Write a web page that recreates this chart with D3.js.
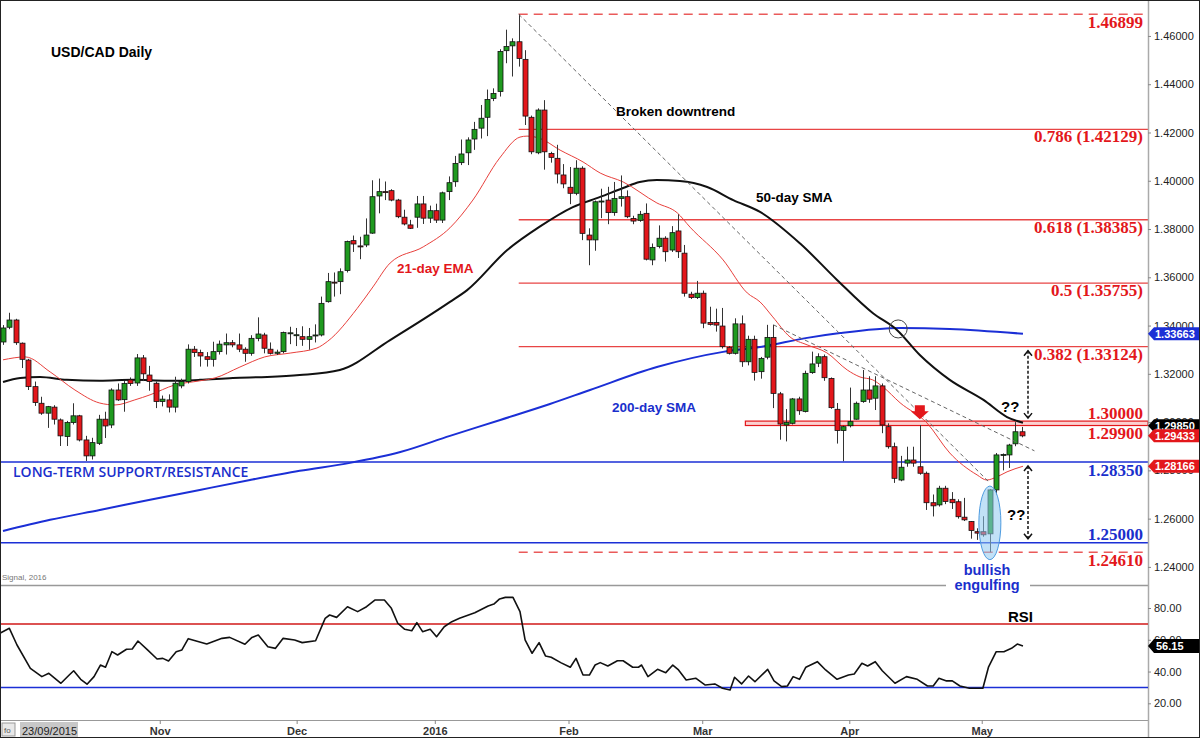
<!DOCTYPE html>
<html>
<head>
<meta charset="utf-8">
<script src="https://cdn.jsdelivr.net/npm/d3@7"></script>
<style>
  body { margin: 0; background: #fff; }
  svg { display: block; font-family: 'Liberation Sans', Arial, sans-serif; }
</style>
</head>
<body>
<svg id="chart" width="1200" height="738"></svg>
<script>
// daily candles, 28 Sep 2015 .. 12 May 2016
const opens = [1.3332,1.3393,1.3423,1.3327,1.3257,1.3147,1.3078,1.3037,1.3062,1.3009,1.2940,1.2998,1.3026,1.2926,1.2860,1.2912,1.3012,1.2988,1.3133,1.3093,1.3175,1.3162,1.3266,1.3195,1.3161,1.3085,1.3092,1.3062,1.3150,1.3168,1.3302,1.3288,1.3271,1.3260,1.3292,1.3320,1.3329,1.3320,1.3302,1.3285,1.3347,1.3361,1.3302,1.3285,1.3292,1.3368,1.3360,1.3354,1.3343,1.3360,1.3361,1.3499,1.3580,1.3582,1.3628,1.3752,1.3730,1.3734,1.3783,1.3937,1.3955,1.3959,1.3920,1.3849,1.3817,1.3849,1.3904,1.3845,1.3876,1.3837,1.3955,1.3996,1.4075,1.4116,1.4173,1.4218,1.4263,1.4341,1.4370,1.4539,1.4559,1.4576,1.4503,1.4263,1.4116,1.4293,1.4113,1.4093,1.4024,1.3973,1.3948,1.4052,1.3775,1.3755,1.3914,1.3920,1.3868,1.3927,1.3934,1.3844,1.3836,1.3865,1.3672,1.3728,1.3762,1.3713,1.3792,1.3700,1.3530,1.3516,1.3534,1.3413,1.3413,1.3398,1.3310,1.3285,1.3407,1.3250,1.3343,1.3209,1.3269,1.3351,1.3117,1.2988,1.2995,1.3096,1.3044,1.3205,1.3244,1.3271,1.3181,1.3053,1.2965,1.2985,1.3012,1.3085,1.3133,1.3099,1.3150,1.2981,1.2898,1.2760,1.2830,1.2843,1.2815,1.2788,1.2666,1.2657,1.2726,1.2680,1.2670,1.2606,1.2588,1.2546,1.2546,1.2537,1.2719,1.2864,1.2864,1.2910,1.2960];
const highs = [1.3402,1.3453,1.3428,1.3330,1.3262,1.3168,1.3105,1.3067,1.3070,1.3015,1.3005,1.3078,1.3030,1.2943,1.2935,1.3030,1.3043,1.3140,1.3160,1.3170,1.3185,1.3282,1.3278,1.3233,1.3168,1.3110,1.3115,1.3188,1.3180,1.3322,1.3315,1.3300,1.3290,1.3333,1.3338,1.3367,1.3340,1.3367,1.3310,1.3360,1.3434,1.3370,1.3330,1.3300,1.3375,1.3395,1.3390,1.3397,1.3390,1.3405,1.3520,1.3618,1.3620,1.3637,1.3752,1.3773,1.3768,1.3844,1.4002,1.4009,1.3997,1.3965,1.3925,1.3880,1.3838,1.3937,1.3937,1.3897,1.3905,1.3955,1.4018,1.4103,1.4171,1.4180,1.4244,1.4314,1.4378,1.4383,1.4545,1.4626,1.4590,1.4690,1.4541,1.4270,1.4300,1.4334,1.4120,1.4149,1.4069,1.4057,1.4085,1.4060,1.3803,1.3918,1.3967,1.3975,1.3995,1.4022,1.3960,1.3855,1.3875,1.3906,1.3740,1.3815,1.3770,1.3812,1.3861,1.3734,1.3540,1.3585,1.3545,1.3478,1.3470,1.3473,1.3315,1.3430,1.3442,1.3358,1.3358,1.3270,1.3403,1.3403,1.3125,1.3054,1.3100,1.3105,1.3213,1.3292,1.3285,1.3280,1.3185,1.3079,1.2985,1.3143,1.3085,1.3216,1.3190,1.3190,1.3160,1.2995,1.2915,1.2860,1.2898,1.2898,1.2988,1.2795,1.2700,1.2736,1.2736,1.2710,1.2680,1.2686,1.2590,1.2560,1.2610,1.2722,1.2872,1.2870,1.2910,1.3000,1.2980];
const lows = [1.3320,1.3385,1.3320,1.3224,1.3133,1.3067,1.3030,1.2976,1.2990,1.2901,1.2901,1.2990,1.2920,1.2839,1.2845,1.2905,1.2934,1.2975,1.3088,1.3043,1.3150,1.3150,1.3170,1.3130,1.3058,1.3065,1.3040,1.3040,1.3140,1.3160,1.3270,1.3230,1.3230,1.3230,1.3280,1.3280,1.3310,1.3290,1.3250,1.3275,1.3335,1.3285,1.3280,1.3278,1.3285,1.3323,1.3315,1.3316,1.3300,1.3330,1.3355,1.3495,1.3520,1.3530,1.3620,1.3705,1.3675,1.3725,1.3780,1.3865,1.3920,1.3915,1.3845,1.3815,1.3800,1.3805,1.3821,1.3825,1.3825,1.3825,1.3920,1.3975,1.4065,1.4065,1.4128,1.4175,1.4185,1.4330,1.4349,1.4487,1.4432,1.4473,1.4231,1.4110,1.4110,1.4046,1.4075,1.3989,1.3969,1.3903,1.3940,1.3754,1.3650,1.3710,1.3845,1.3820,1.3855,1.3893,1.3845,1.3820,1.3830,1.3670,1.3650,1.3720,1.3665,1.3705,1.3680,1.3520,1.3510,1.3510,1.3389,1.3400,1.3375,1.3305,1.3280,1.3280,1.3229,1.3235,1.3172,1.3180,1.3260,1.3058,1.2927,1.2920,1.2990,1.3030,1.3040,1.3200,1.3228,1.3171,1.3055,1.2911,1.2838,1.2978,1.3010,1.3080,1.3080,1.3050,1.2954,1.2890,1.2748,1.2755,1.2815,1.2815,1.2782,1.2636,1.2609,1.2650,1.2660,1.2640,1.2600,1.2590,1.2517,1.2512,1.2525,1.2461,1.2700,1.2800,1.2810,1.2900,1.2937];
const closes = [1.3390,1.3423,1.3329,1.3260,1.3147,1.3081,1.3037,1.3064,1.3012,1.2943,1.2998,1.3026,1.2926,1.2860,1.2915,1.3012,1.2984,1.3133,1.3092,1.3160,1.3160,1.3266,1.3200,1.3168,1.3085,1.3095,1.3062,1.3161,1.3168,1.3302,1.3288,1.3274,1.3260,1.3292,1.3323,1.3329,1.3320,1.3302,1.3285,1.3347,1.3365,1.3306,1.3285,1.3290,1.3371,1.3370,1.3362,1.3343,1.3354,1.3361,1.3492,1.3582,1.3578,1.3623,1.3748,1.3738,1.3728,1.3775,1.3934,1.3955,1.3953,1.3920,1.3851,1.3821,1.3803,1.3904,1.3845,1.3876,1.3837,1.3950,1.3992,1.4072,1.4111,1.4169,1.4213,1.4259,1.4337,1.4362,1.4536,1.4556,1.4576,1.4507,1.4268,1.4120,1.4293,1.4120,1.4097,1.4028,1.3987,1.3948,1.4052,1.3782,1.3755,1.3913,1.3916,1.3868,1.3927,1.3934,1.3851,1.3833,1.3861,1.3675,1.3724,1.3762,1.3706,1.3785,1.3706,1.3534,1.3516,1.3534,1.3410,1.3405,1.3402,1.3313,1.3285,1.3407,1.3250,1.3343,1.3206,1.3264,1.3351,1.3119,1.2992,1.2998,1.3096,1.3047,1.3202,1.3241,1.3271,1.3184,1.3060,1.2965,1.2981,1.3002,1.3078,1.3133,1.3095,1.3150,1.2988,1.2898,1.2767,1.2813,1.2843,1.2830,1.2788,1.2666,1.2653,1.2726,1.2671,1.2666,1.2608,1.2595,1.2551,1.2540,1.2533,1.2719,1.2864,1.2866,1.2905,1.2960,1.2943];

// moving averages: [candle index, price]
const ema21 = [[0,1.3258],[3.5,1.3270],[7.4,1.3208],[11.3,1.3133],[15.2,1.3079],[17.6,1.3071],[20.7,1.3092],[23.1,1.3113],[27,1.3154],[30.9,1.3171],[33.3,1.3183],[37.2,1.3228],[41.1,1.3270],[45.1,1.3286],[49.3,1.3307],[51,1.3335],[55.6,1.3470],[58.1,1.3560],[60.8,1.3659],[66,1.3726],[70.2,1.3805],[73.8,1.3920],[78,1.4094],[81.2,1.4181],[82.3,1.4185],[84.3,1.4176],[87.5,1.4127],[91.1,1.4078],[93.8,1.4032],[97.4,1.3995],[102.7,1.3908],[105.9,1.3867],[107.9,1.3808],[113.1,1.3672],[116.9,1.3535],[118.9,1.3498],[120.9,1.3436],[123.6,1.3353],[126.3,1.3320],[129.4,1.3287],[132.6,1.3216],[134.6,1.3187],[136.6,1.3175],[138.2,1.3146],[140.9,1.3080],[145.1,1.2997],[148.7,1.2872],[153,1.2781],[154.5,1.2760],[156.1,1.2773],[157.7,1.2794],[160.2,1.2817]];
const sma50 = [[0,1.3166],[2.7,1.3183],[5.8,1.3187],[10,1.3175],[15.2,1.3171],[20.4,1.3175],[25.8,1.3171],[30.9,1.3175],[36.1,1.3183],[41.5,1.3187],[46.6,1.3195],[52.9,1.3216],[60.8,1.3340],[70.2,1.3498],[72.9,1.3547],[79.2,1.3713],[84.3,1.3810],[89.5,1.3891],[93.8,1.3933],[97.4,1.3970],[100,1.3995],[102.7,1.4003],[106.3,1.3999],[110.6,1.3974],[114.7,1.3920],[118.9,1.3871],[125.2,1.3740],[131,1.3589],[136.6,1.3452],[140.4,1.3382],[144,1.3278],[148.7,1.3175],[154,1.3092],[157.7,1.3021],[160.2,1.2997]];
const sma200 = [[0,1.2549],[7.4,1.2595],[15.2,1.2636],[23.1,1.2678],[30.9,1.2719],[38.8,1.2760],[46.6,1.2798],[54.5,1.2831],[62.4,1.2876],[70.2,1.2943],[78.1,1.3009],[85.9,1.3075],[92.2,1.3133],[102.7,1.3228],[113.1,1.3291],[118.9,1.3311],[126.3,1.3349],[131.5,1.3369],[140.9,1.3390],[148.7,1.3386],[160.2,1.3366]];

// RSI(14): [candle index, value]
const rsi = [[-0.5,64.1],[1.0,67.2],[2.2,56.7],[4.3,42.0],[6.1,36.8],[7.2,38.9],[9.1,32.6],[10.4,37.8],[11.1,40.5],[12.2,35.1],[13.2,32.0],[14.3,36.8],[15.3,44.1],[16.1,42.7],[17.1,52.5],[18.0,50.4],[19.4,54.0],[20.3,54.2],[21.2,59.2],[22.7,53.6],[24.2,47.9],[25.1,48.3],[26.0,46.6],[27.2,52.5],[28.1,53.6],[29.1,60.7],[32.0,57.3],[34.4,60.9],[35.6,61.5],[38.0,57.2],[39.1,61.5],[40.1,63.0],[41.6,55.6],[42.8,54.6],[44.0,60.9],[45.8,59.9],[47.0,58.2],[49.1,59.4],[50.6,73.5],[51.3,75.6],[52.4,74.1],[54.1,80.8],[55.7,77.7],[57.1,80.8],[58.4,85.0],[59.9,85.0],[61.0,79.8],[62.0,70.4],[63.1,66.6],[64.2,65.7],[65.0,70.8],[65.9,65.1],[67.1,66.6],[68.1,61.9],[69.3,68.2],[70.5,71.4],[71.7,73.5],[74.1,77.0],[76.2,81.3],[77.1,82.5],[78.0,85.7],[78.9,86.7],[80.1,86.7],[81.2,77.7],[82.0,59.9],[83.1,51.5],[84.2,58.2],[85.2,49.8],[86.1,49.0],[87.6,45.6],[89.1,42.7],[90.0,48.3],[91.1,37.8],[92.1,37.8],[93.0,44.1],[93.8,45.6],[95.0,43.5],[96.5,46.8],[97.4,46.8],[98.9,42.7],[99.8,42.7],[100.3,44.1],[101.3,36.8],[102.8,41.4],[104.1,39.3],[105.2,44.1],[106.1,41.0],[107.3,34.7],[108.8,35.8],[110.3,31.5],[111.8,32.2],[113.0,29.5],[114.2,28.4],[114.9,36.4],[116.0,32.2],[117.1,37.2],[118.1,33.6],[120.1,41.4],[121.1,34.1],[122.3,30.5],[123.2,30.9],[124.1,36.8],[125.1,35.1],[126.1,42.7],[127.9,46.2],[129.2,41.0],[131.0,35.1],[132.8,37.8],[133.7,38.5],[134.9,45.2],[135.8,43.5],[137.0,46.2],[138.1,40.5],[140.1,32.6],[141.9,36.8],[143.6,35.1],[145.2,30.9],[146.1,30.9],[147.0,35.8],[148.2,34.1],[149.1,34.1],[150.3,30.9],[151.8,29.5],[153.9,29.5],[154.8,43.0],[156.0,52.5],[157.2,52.5],[158.4,54.6],[159.3,57.3],[160.2,56.1]];

const priceTicks = [1.24,1.26,1.28,1.30,1.32,1.34,1.36,1.38,1.40,1.42,1.44,1.46];
const rsiTicks = [20,40,60,80];
const rsiBands = [70,30];
const monthLabels = ['Nov','Dec','2016','Feb','Mar','Apr','May'];
const monthIdx = [24.7,46.2,67.9,88.9,109.9,133.0,153.8];

const fibRatios = ['0.786','0.618','0.5','0.382'];
const fibLevels = [1.42129,1.38385,1.35755,1.33124];
const swingLevels = [1.46899,1.24610];
const blueLevels = [1.28350,1.25000];
const resistance = [1.30000,1.29900];
const tagValues = [1.33663,1.29850,1.29433,1.28166];
const tagColors = ['#1b2fd6','#000','#e3171b','#e3171b'];
const rsiLast = 56.15;
// dashed downtrend lines: [idx0, price0, idx1, price1]
const trendLines = [[81,1.46899,155,1.2748],[121,1.3403,162,1.2881]];

const svg = d3.select('#chart');
const axisX = 1148;
const RED = '#e3171b', BLUE = '#1b2fd6', TXTBLUE = '#1a2fcc';

const x = d3.scaleLinear().domain([0, 160]).range([3, 1021.7]);
const y = d3.scaleLinear().domain([1.2325, 1.4749]).range([585, 0]);
const yr = d3.scaleLinear().domain([20, 80]).range([703.3, 608]);

svg.append('rect').attr('width', 1200).attr('height', 738).attr('fill', '#fff');

// clip for price panel
svg.append('clipPath').attr('id', 'pc').append('rect')
  .attr('x', 0).attr('y', 0).attr('width', axisX).attr('height', 585);

// horizontal levels
const gLev = svg.append('g');
gLev.selectAll('line.fib').data(fibLevels).join('line')
  .attr('x1', x(81)).attr('x2', axisX)
  .attr('y1', d => y(d)).attr('y2', d => y(d))
  .attr('stroke', '#e84545').attr('stroke-width', 1.3);
gLev.selectAll('line.sw').data(swingLevels).join('line')
  .attr('x1', x(81)).attr('x2', axisX)
  .attr('y1', d => y(d)).attr('y2', d => y(d))
  .attr('stroke', '#ea5a5a').attr('stroke-width', 1.5).attr('stroke-dasharray', '9,6');
gLev.selectAll('line.bl').data(blueLevels).join('line')
  .attr('x1', 0).attr('x2', axisX)
  .attr('y1', d => y(d)).attr('y2', d => y(d))
  .attr('stroke', BLUE).attr('stroke-width', 1.5);
gLev.append('rect')
  .attr('x', x(116.6)).attr('width', axisX - x(116.6))
  .attr('y', y(resistance[0]) - 1).attr('height', y(resistance[1]) - y(resistance[0]) + 2)
  .attr('fill', '#fbd0d0').attr('stroke', RED).attr('stroke-width', 1.2);

// moving averages
const line = d3.line().x(d => x(d[0])).y(d => y(d[1])).curve(d3.curveMonotoneX);
const gMa = svg.append('g').attr('fill', 'none').attr('clip-path', 'url(#pc)');
gMa.append('path').attr('d', line(sma200)).attr('stroke', BLUE).attr('stroke-width', 2);
gMa.append('path').attr('d', line(sma50)).attr('stroke', '#111').attr('stroke-width', 2);
gMa.append('path').attr('d', line(ema21)).attr('stroke', '#e8403c').attr('stroke-width', 1);

// candles
const idx = d3.range(opens.length);
const gC = svg.append('g').attr('clip-path', 'url(#pc)');
gC.selectAll('line').data(idx).join('line')
  .attr('x1', i => Math.round(x(i)) + 0.5).attr('x2', i => Math.round(x(i)) + 0.5)
  .attr('y1', i => y(highs[i])).attr('y2', i => y(lows[i]))
  .attr('stroke', '#333').attr('stroke-width', 1);
gC.selectAll('rect').data(idx).join('rect')
  .attr('x', i => Math.round(x(i)) - 2).attr('width', 5)
  .attr('y', i => y(Math.max(opens[i], closes[i])))
  .attr('height', i => Math.max(1, Math.abs(y(opens[i]) - y(closes[i]))))
  .attr('fill', i => closes[i] >= opens[i] ? '#1f9a1f' : RED)
  .attr('stroke', '#111').attr('stroke-width', 0.8);

// trend lines
svg.append('g').selectAll('line').data(trendLines).join('line')
  .attr('x1', d => x(d[0])).attr('y1', d => y(d[1]))
  .attr('x2', d => x(d[2])).attr('y2', d => y(d[3]))
  .attr('stroke', '#666').attr('stroke-width', 1).attr('stroke-dasharray', '4,3');

// bullish engulfing highlight
svg.append('ellipse')
  .attr('cx', x(155)).attr('cy', (y(1.2735) + y(1.2430)) / 2)
  .attr('rx', 11).attr('ry', (y(1.2430) - y(1.2735)) / 2)
  .attr('fill', '#8ec8f0').attr('fill-opacity', 0.55)
  .attr('stroke', '#4d9be0').attr('stroke-width', 1);

// cross circle
svg.append('circle').attr('cx', x(140.6)).attr('cy', y(1.3386)).attr('r', 9)
  .attr('fill', 'none').attr('stroke', '#444').attr('stroke-width', 1);

// red down arrow
const ax = x(144), ay = y(1.3070);
svg.append('path')
  .attr('d', `M${ax - 5},${ay} h10 v6 h4 l-9,8 l-9,-8 h4 z`)
  .attr('fill', RED);

// dotted double arrows
const arrows = [[1.33124, 1.30000], [1.28350, 1.25000]];
const gA = svg.append('g').attr('stroke', '#111').attr('fill', 'none').attr('stroke-width', 1.5);
arrows.forEach(a => {
  const ax0 = 1028, y0 = y(a[0]) + 4, y1 = y(a[1]) - 4;
  gA.append('line').attr('x1', ax0).attr('x2', ax0).attr('y1', y0).attr('y2', y1)
    .attr('stroke-dasharray', '3,2');
  gA.append('path').attr('d', `M${ax0 - 4},${y0 + 5} L${ax0},${y0} L${ax0 + 4},${y0 + 5}`);
  gA.append('path').attr('d', `M${ax0 - 4},${y1 - 5} L${ax0},${y1} L${ax0 + 4},${y1 - 5}`);
});

// level labels
const serif = "'Liberation Serif', 'Times New Roman', serif";
const gL = svg.append('g').attr('font-family', serif).attr('font-weight', 'bold')
  .attr('font-size', 17).attr('text-anchor', 'end');
gL.selectAll('text.fib').data(fibLevels).join('text')
  .attr('x', 1143).attr('y', d => y(d) + 13).attr('fill', RED)
  .text((d, i) => `${fibRatios[i]} (${d.toFixed(5)})`);
gL.selectAll('text.sw').data(swingLevels).join('text')
  .attr('x', 1143).attr('y', d => y(d) + 14).attr('fill', RED)
  .text(d => d.toFixed(5));
gL.append('text').attr('x', 1143).attr('y', y(resistance[0]) - 3).attr('fill', RED).text(resistance[0].toFixed(5));
gL.append('text').attr('x', 1143).attr('y', y(resistance[1]) + 14).attr('fill', RED).text(resistance[1].toFixed(5));
gL.append('text').attr('x', 1143).attr('y', y(blueLevels[0]) + 14).attr('fill', TXTBLUE).text(blueLevels[0].toFixed(5));
gL.append('text').attr('x', 1143).attr('y', y(blueLevels[1]) - 3).attr('fill', TXTBLUE).text(blueLevels[1].toFixed(5));

// panel frame
svg.append('line').attr('x1', 0).attr('x2', axisX).attr('y1', 585.5).attr('y2', 585.5).attr('stroke', '#999').attr('stroke-width', 1.5);
svg.append('line').attr('x1', 0).attr('x2', axisX).attr('y1', 720.5).attr('y2', 720.5).attr('stroke', '#999');
svg.append('line').attr('x1', axisX + 0.5).attr('x2', axisX + 0.5).attr('y1', 0).attr('y2', 738).attr('stroke', '#aaa').attr('stroke-width', 1.5);
svg.append('rect').attr('x', 946).attr('y', 578).attr('width', 84).attr('height', 14).attr('fill', '#fff');

// free text annotations
const ann = svg.append('g').attr('font-weight', 'bold');
ann.append('text').attr('x', 51).attr('y', 57).attr('font-size', 14).text('USD/CAD Daily');
ann.append('text').attr('x', 616).attr('y', 116).attr('font-size', 13.5).text('Broken downtrend');
ann.append('text').attr('x', 756).attr('y', 202).attr('font-size', 13.5).text('50-day SMA');
ann.append('text').attr('x', 397).attr('y', 273).attr('font-size', 13.5).attr('fill', RED).text('21-day EMA');
ann.append('text').attr('x', 612).attr('y', 412).attr('font-size', 13.5).attr('fill', TXTBLUE).text('200-day SMA');
ann.append('text').attr('x', 13).attr('y', 477).attr('font-size', 14)
  .attr('font-family', "'Open Sans', sans-serif").attr('fill', TXTBLUE).style('font-weight', 600)
  .text('LONG-TERM SUPPORT/RESISTANCE');
ann.append('text').attr('x', 1001).attr('y', 412).attr('font-size', 15).text('??');
ann.append('text').attr('x', 1007).attr('y', 520).attr('font-size', 15).text('??');
ann.append('text').attr('x', 987).attr('y', 575).attr('font-size', 14.5).attr('text-anchor', 'middle').attr('fill', TXTBLUE).text('bullish');
ann.append('text').attr('x', 987).attr('y', 590).attr('font-size', 14.5).attr('text-anchor', 'middle').attr('fill', TXTBLUE).text('engulfing');
ann.append('text').attr('x', 1008).attr('y', 622).attr('font-size', 15).text('RSI');
svg.append('text').attr('x', 2).attr('y', 580).attr('font-size', 8).attr('fill', '#777').text('Signal, 2016');

// price axis
const yAxis = d3.axisRight(y).tickValues(priceTicks).tickFormat(d3.format('.5f')).tickSize(3);
const gy = svg.append('g').attr('transform', `translate(${axisX},0)`).call(yAxis);
gy.select('.domain').remove();
gy.selectAll('text').attr('font-size', 11).attr('fill', '#222').attr('font-family', "'Liberation Sans', Arial, sans-serif");
gy.selectAll('line').attr('stroke', '#888');

// price tags
const tag = svg.append('g').selectAll('g').data(tagValues).join('g')
  .attr('transform', d => `translate(${axisX},${y(d)})`);
tag.append('path').attr('d', 'M0,0 L6,-6.5 H52 V6.5 H6 Z').attr('fill', (d, i) => tagColors[i]);
tag.append('text').attr('x', 7).attr('y', 4).attr('font-size', 11).attr('font-weight', 'bold')
  .attr('fill', '#fff').text(d => d.toFixed(5));

// RSI panel
svg.append('g').selectAll('line').data(rsiBands).join('line')
  .attr('x1', 0).attr('x2', axisX).attr('y1', d => yr(d)).attr('y2', d => yr(d))
  .attr('stroke', (d, i) => i ? BLUE : '#d01818').attr('stroke-width', 1.5);
svg.append('path')
  .attr('d', d3.line().x(d => x(d[0])).y(d => yr(d[1]))(rsi))
  .attr('fill', 'none').attr('stroke', '#111').attr('stroke-width', 1.6).attr('stroke-linejoin', 'round');
const rAxis = d3.axisRight(yr).tickValues(rsiTicks).tickFormat(d3.format('.2f')).tickSize(3);
const gr = svg.append('g').attr('transform', `translate(${axisX},0)`).call(rAxis);
gr.select('.domain').remove();
gr.selectAll('text').attr('font-size', 11).attr('fill', '#222').attr('font-family', "'Liberation Sans', Arial, sans-serif");
gr.selectAll('line').attr('stroke', '#888');
const rt = svg.append('g').attr('transform', `translate(${axisX},${yr(rsiLast)})`);
rt.append('path').attr('d', 'M0,0 L6,-7 H52 V7 H6 Z').attr('fill', '#000');
rt.append('text').attr('x', 8).attr('y', 4).attr('font-size', 11).attr('font-weight', 'bold').attr('fill', '#fff').text(rsiLast.toFixed(2));

// time axis
const gx = svg.append('g');
gx.selectAll('line').data(monthIdx).join('line')
  .attr('x1', d => x(d)).attr('x2', d => x(d)).attr('y1', 720).attr('y2', 724).attr('stroke', '#888');
gx.selectAll('text').data(monthIdx).join('text')
  .attr('x', d => x(d)).attr('y', 735).attr('text-anchor', 'middle')
  .attr('font-size', 11).attr('font-weight', 'bold').attr('fill', '#333')
  .text((d, i) => monthLabels[i]);
svg.append('rect').attr('x', 2).attr('y', 723).attr('width', 13).attr('height', 13).attr('fill', '#e8e8e8').attr('stroke', '#999');
svg.append('text').attr('x', 4).attr('y', 733).attr('font-size', 8).attr('fill', '#555').text('fo');
svg.append('rect').attr('x', 20).attr('y', 722).attr('width', 58).attr('height', 16).attr('fill', '#c8c8c8');
svg.append('text').attr('x', 22).attr('y', 735).attr('font-size', 11).attr('fill', '#222').text('23/09/2015');

// outer border
svg.append('rect').attr('x', 0.5).attr('y', 0.5).attr('width', 1199).attr('height', 737)
  .attr('fill', 'none').attr('stroke', '#222');
</script>
</body>
</html>
